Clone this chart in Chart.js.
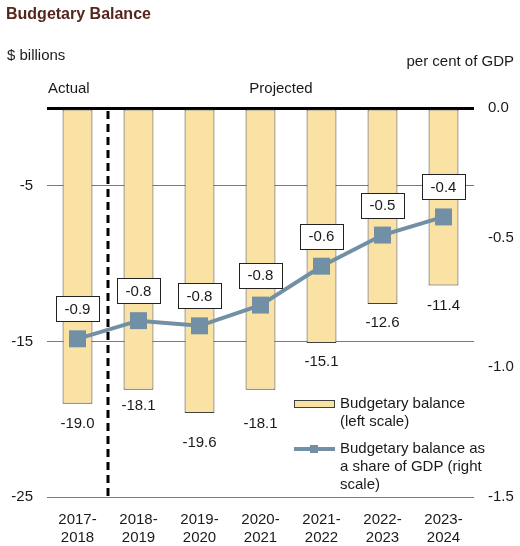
<!DOCTYPE html>
<html>
<head>
<meta charset="utf-8">
<script src="https://cdn.jsdelivr.net/npm/chart.js@4.4.1/dist/chart.umd.min.js"></script>
<style>
html,body{margin:0;padding:0;background:#fff;}
#wrap{position:relative;width:520px;height:546px;}
</style>
</head>
<body>
<div id="wrap"><canvas id="c" width="520" height="546"></canvas></div>
<script>
const categories = [['2017-','2018'],['2018-','2019'],['2019-','2020'],['2020-','2021'],['2021-','2022'],['2022-','2023'],['2023-','2024']];
const balance = [-19.0, -18.1, -19.6, -18.1, -15.1, -12.6, -11.4];
const shareGDP = [-0.89, -0.82, -0.84, -0.76, -0.61, -0.49, -0.42];
const leftTicks = [-25, -15, -5, 0];
const rightTicks = [0, -0.5, -1.0, -1.5];

const FONT = "'Liberation Sans', Arial, sans-serif";
const TXT = '#1a1a1a';
const BAR_FILL = '#FAE2A5';
const BAR_BORDER = '#404040';
const LINE_COL = '#7190A5';
const barLabelOffsets = [20, 16, 30, 34, 19, 19, 20];

const annotate = {
  id: 'annotate',
  afterDatasetsDraw(chart) {
    const ctx = chart.ctx;
    const area = chart.chartArea;
    const xs = chart.scales.x;
    ctx.save();
    const dx = (xs.getPixelForValue(0) + xs.getPixelForValue(1)) / 2;
    ctx.strokeStyle = '#000';
    ctx.lineWidth = 3;
    ctx.setLineDash([8, 5]);
    ctx.beginPath();
    ctx.moveTo(dx, area.top + 3);
    ctx.lineTo(dx, area.bottom + 1);
    ctx.stroke();
    ctx.setLineDash([]);

    ctx.font = '15px ' + FONT;
    ctx.fillStyle = TXT;
    ctx.textAlign = 'center';
    ctx.textBaseline = 'middle';
    const barMeta = chart.getDatasetMeta(0);
    barMeta.data.forEach((el, i) => {
      ctx.fillText(balance[i].toFixed(1), el.x, el.y + barLabelOffsets[i]);
    });

    const lineMeta = chart.getDatasetMeta(1);
    lineMeta.data.forEach((el, i) => {
      const cx = el.x, cy = el.y - 30;
      const w = 43, h = 25;
      ctx.fillStyle = '#fff';
      ctx.fillRect(Math.round(cx - w / 2) + 0.5, Math.round(cy - h / 2) + 0.5, w, h);
      ctx.strokeStyle = '#222';
      ctx.lineWidth = 1;
      ctx.strokeRect(Math.round(cx - w / 2) + 0.5, Math.round(cy - h / 2) + 0.5, w, h);
      ctx.fillStyle = TXT;
      ctx.fillText(shareGDP[i].toFixed(1), cx, cy + 1);
    });
    ctx.restore();
  },
  afterDraw(chart) {
    const ctx = chart.ctx;
    ctx.save();
    ctx.textBaseline = 'middle';
    ctx.font = 'bold 16px ' + FONT;
    ctx.fillStyle = '#55261d';
    ctx.textAlign = 'left';
    ctx.fillText('Budgetary Balance', 6, 15);
    ctx.font = '15px ' + FONT;
    ctx.fillStyle = TXT;
    ctx.fillText('$ billions', 7, 56);
    ctx.textAlign = 'right';
    ctx.fillText('per cent of GDP', 514, 62);
    ctx.textAlign = 'left';
    ctx.fillText('Actual', 48, 89);
    ctx.textAlign = 'center';
    ctx.fillText('Projected', 281, 89);

    ctx.textAlign = 'left';
    ctx.fillStyle = BAR_FILL;
    ctx.fillRect(294.5, 400.5, 40, 7);
    ctx.strokeStyle = BAR_BORDER;
    ctx.lineWidth = 1;
    ctx.strokeRect(294.5, 400.5, 40, 7);
    ctx.fillStyle = TXT;
    ctx.fillText('Budgetary balance', 340, 404);
    ctx.fillText('(left scale)', 340, 422);

    ctx.strokeStyle = LINE_COL;
    ctx.lineWidth = 4;
    ctx.beginPath();
    ctx.moveTo(294, 449);
    ctx.lineTo(335, 449);
    ctx.stroke();
    ctx.fillStyle = LINE_COL;
    ctx.fillRect(310, 445, 8, 8);
    ctx.fillStyle = TXT;
    ctx.fillText('Budgetary balance as', 340, 449);
    ctx.fillText('a share of GDP (right', 340, 467);
    ctx.fillText('scale)', 340, 485);
    ctx.restore();
  }
};

new Chart(document.getElementById('c'), {
  data: {
    labels: categories,
    datasets: [
      {
        type: 'bar',
        data: balance,
        yAxisID: 'y',
        backgroundColor: BAR_FILL,
        borderColor: BAR_BORDER,
        borderWidth: 1,
        borderSkipped: false,
        barPercentage: 0.49,
        categoryPercentage: 1.0,
        order: 2
      },
      {
        type: 'line',
        data: shareGDP,
        yAxisID: 'y1',
        borderColor: LINE_COL,
        backgroundColor: LINE_COL,
        borderWidth: 4,
        pointStyle: 'rect',
        pointRadius: 12,
        pointBorderWidth: 0,
        pointBackgroundColor: LINE_COL,
        tension: 0,
        order: 1
      }
    ]
  },
  options: {
    responsive: false,
    animation: false,
    devicePixelRatio: 1,
    layout: { padding: { top: 108, left: 0, right: 0, bottom: 0 } },
    plugins: { legend: { display: false }, tooltip: { enabled: false }, title: { display: false } },
    scales: {
      x: {
        grid: { display: false },
        border: { display: false },
        ticks: { color: TXT, font: { family: FONT, size: 15, lineHeight: 1.25 }, padding: 5, maxRotation: 0, autoSkip: false },
        afterFit(s) { s.height = 49; }
      },
      y: {
        position: 'left',
        min: -25, max: 0,
        afterBuildTicks(s) { s.ticks = leftTicks.map(v => ({ value: v })); },
        ticks: {
          color: TXT, font: { family: FONT, size: 15 }, padding: 14,
          callback: (v) => v === 0 ? '' : String(v)
        },
        grid: {
          drawTicks: false,
          color: (c) => c.tick && c.tick.value === 0 ? '#000' : '#7a7a7a',
          lineWidth: (c) => c.tick && c.tick.value === 0 ? 3 : 1
        },
        border: { display: false },
        afterFit(s) { s.width = 47; }
      },
      y1: {
        position: 'right',
        min: -1.5, max: 0,
        afterBuildTicks(s) { s.ticks = rightTicks.map(v => ({ value: v })); },
        ticks: {
          color: TXT, font: { family: FONT, size: 15 }, padding: 14,
          callback: (v) => Number(v).toFixed(1)
        },
        grid: { display: false, drawTicks: false },
        border: { display: false },
        afterFit(s) { s.width = 46; }
      }
    }
  },
  plugins: [annotate]
});
</script>
</body>
</html>
